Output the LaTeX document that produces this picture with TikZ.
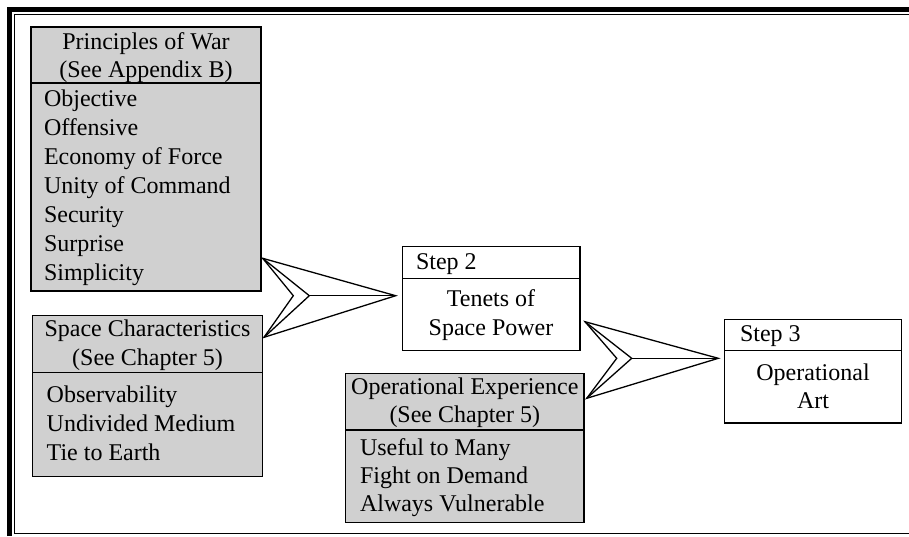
\documentclass[tikz,border=0pt]{standalone}
\usepackage{fontspec}
\setmainfont{Liberation Serif}
\definecolor{boxgray}{RGB}{208,208,208}
\tikzset{
  every node/.style={font=\fontsize{24}{29}\selectfont, inner sep=0pt, outer sep=0pt},
  graybox/.style={draw=black, line width=1.5pt, fill=boxgray, anchor=north west},
  whitebox/.style={draw=black, line width=1.5pt, fill=white, anchor=north west},
  divider/.style={draw=black, line width=1.5pt},
  txt/.style={anchor=base west},
  ctxt/.style={anchor=base},
  chev/.style={draw=black, line width=1.3pt, line join=miter, fill=white},
  chevline/.style={draw=black, line width=1.3pt},
}
\begin{document}
\begin{tikzpicture}[x=1pt,y=-1pt]
\useasboundingbox (0,0) rectangle (909,536);
% frame
\draw[line width=5.6pt] (9.5,536) -- (9.5,9.5) -- (909,9.5);
\draw[line width=1.3pt] (909,14.5) -- (14.5,14.5) -- (14.5,533.5) -- (909,533.5);

% Principles of War
\node[graybox, minimum width=230pt, minimum height=264pt] (pw) at (31,27) {};
\draw[divider] (pw.west |- 0,83) -- (pw.east |- 0,83);
\node[ctxt] (pwh1) at (146,49.3) {Principles of War};
\node[ctxt] (pwh2) at (146,77.3) {(See Appendix B)};
\foreach \t [count=\i from 0] in {Objective,Offensive,Economy of Force,Unity of Command,Security,Surprise,Simplicity}
  \node[txt] (pwl\i) at (44,{106.7+28.9*\i}) {\t};

% Space Characteristics
\node[graybox, minimum width=230.4pt, minimum height=161pt] (sc) at (32.3,315.7) {};
\draw[divider] (sc.west |- 0,372.7) -- (sc.east |- 0,372.7);
\node[ctxt] (sch1) at (147.5,336.7) {Space Characteristics};
\node[ctxt] (sch2) at (147.5,365) {(See Chapter 5)};
\foreach \t [count=\i from 0] in {Observability,Undivided Medium,Tie to Earth}
  \node[txt] (scl\i) at (46.7,{402.5+28.9*\i}) {\t};

% Step 2
\node[whitebox, minimum width=177.7pt, minimum height=104pt] (s2) at (402.3,246.7) {};
\draw[divider] (s2.west |- 0,278.3) -- (s2.east |- 0,278.3);
\node[txt] (s2h) at (416,269.3) {Step 2};
\node[ctxt] (s2b1) at (491,306.9) {Tenets of};
\node[ctxt] (s2b2) at (491,335.8) {Space Power};

% Operational Experience
\node[graybox, minimum width=238.3pt, minimum height=149.4pt] (oe) at (345.7,373.3) {};
\draw[divider] (oe.west |- 0,430) -- (oe.east |- 0,430);
\node[ctxt] (oeh1) at (464.8,394.3) {Operational Experience};
\node[ctxt] (oeh2) at (464.8,422.5) {(See Chapter 5)};
\foreach \t [count=\i from 0] in {Useful to Many,Fight on Demand,Always Vulnerable}
  \node[txt] (oel\i) at (360,{455+28.4*\i}) {\t};

% Step 3
\node[whitebox, minimum width=177.4pt, minimum height=103.7pt] (s3) at (724.3,319.3) {};
\draw[divider] (s3.west |- 0,350.7) -- (s3.east |- 0,350.7);
\node[txt] (s3h) at (740,341.7) {Step 3};
\node[ctxt] (s3b1) at (813,380) {Operational};
\node[ctxt] (s3b2) at (813,408.5) {Art};

% Arrow 1 (into Step 2)
\coordinate (a1top) at (262.7,258.3);
\coordinate (a1bot) at (264,337.3);
\coordinate (a1notch) at (293.3,295.7);
\coordinate (a1in) at (309.3,295.7);
\coordinate (a1tip) at (395.7,295.7);
\draw[chev] (a1top) -- (a1tip) -- (a1bot) -- (a1notch) -- cycle;
\draw[chevline] (a1top) -- (a1in) -- (a1bot);
\draw[chevline] (a1in) -- (a1tip);

% Arrow 2 (into Step 3)
\coordinate (a2top) at (585,321.7);
\coordinate (a2bot) at (586.7,398.3);
\coordinate (a2notch) at (616.7,358.3);
\coordinate (a2in) at (631.7,358.3);
\coordinate (a2tip) at (718.3,358.3);
\draw[chev] (a2top) -- (a2tip) -- (a2bot) -- (a2notch) -- cycle;
\draw[chevline] (a2top) -- (a2in) -- (a2bot);
\draw[chevline] (a2in) -- (a2tip);
\end{tikzpicture}
\end{document}
